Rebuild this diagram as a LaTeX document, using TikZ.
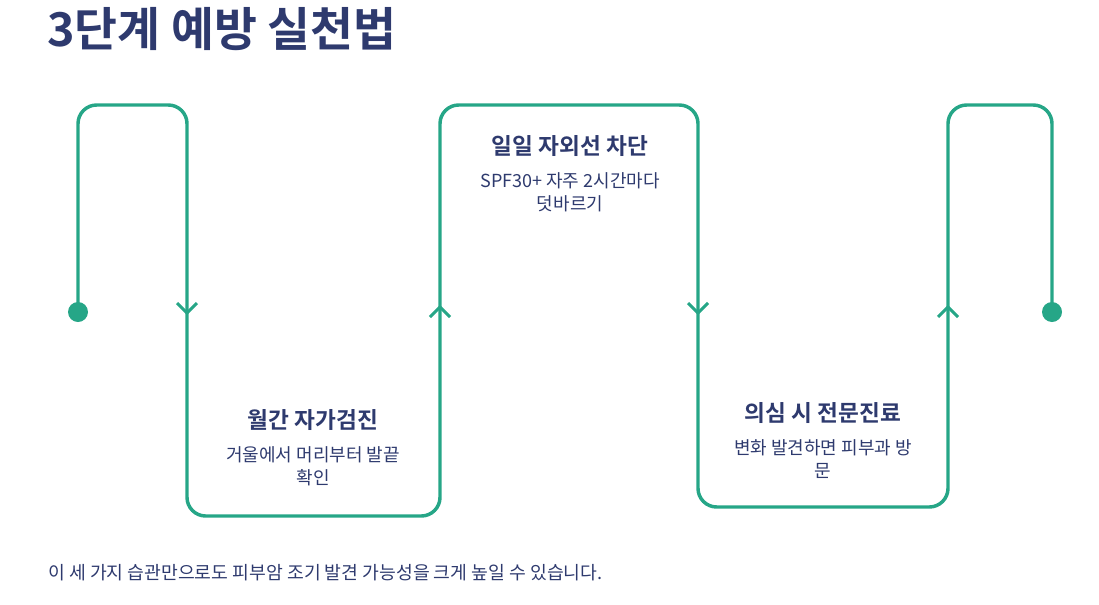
\documentclass[tikz,border=0pt]{standalone}
\usepackage{fontspec}
\setmainfont{Noto Sans CJK KR}[BoldFont={Noto Sans CJK KR Bold}]
\usepackage{tikz}
\usetikzlibrary{positioning}
\definecolor{flowgreen}{RGB}{38,166,135}
\definecolor{inkblue}{RGB}{46,58,110}
\tikzset{
    flow/.style={
        draw=flowgreen,
        line width=2.6pt,
        rounded corners=14pt
    },
    chevron/.style={
        draw=flowgreen,
        line width=2.2pt
    },
    enddot/.style={
        circle,
        fill=flowgreen,
        inner sep=0pt,
        minimum size=15pt
    },
    steptitle/.style={
        text=inkblue,
        font=\fontsize{17pt}{20pt}\selectfont\bfseries
    },
    stepnote/.style={
        text=inkblue,
        align=center,
        font=\fontsize{13.5pt}{17.3pt}\selectfont
    }
}

\begin{document}
\begin{tikzpicture}[x=0.75pt, y=-0.75pt]
\useasboundingbox (0,0) rectangle (1099,604);

% Title
\node[text=inkblue, anchor=base west, inner sep=0pt,
      font=\fontsize{35pt}{40pt}\selectfont\bfseries] (title) at (47,46) {3단계 예방 실천법};

% Path
\coordinate (start) at (78,312);
\coordinate (finish) at (1052,312);
\draw[flow] (start) -- (78,105) -- (187,105) -- (187,516) -- (440,516)
    -- (440,105) -- (698,105) -- (698,507) -- (948,507) -- (948,105)
    -- (1052,105) -- (finish);
\node[enddot] at (start) {};
\node[enddot] at (finish) {};

% Arrows
\foreach \x in {187,698} {
    \draw[chevron] (\x-10,303) -- (\x,313) -- (\x+10,303);
}
\foreach \x in {440,948} {
    \draw[chevron] (\x-10,317) -- (\x,307) -- (\x+10,317);
}

% Steps
\node[steptitle] (monthly) at (313,420) {월간 자가검진};
\node[stepnote, below=5pt of monthly] (monthlynote) {거울에서 머리부터 발끝\\확인};

\node[steptitle] (daily) at (570,146) {일일 자외선 차단};
\node[stepnote, below=5pt of daily] (dailynote) {SPF30+ 자주 2시간마다\\덧바르기};

\node[steptitle] (doctor) at (823,413) {의심 시 전문진료};
\node[stepnote, below=5pt of doctor] (doctornote) {변화 발견하면 피부과 방\\문};

% Footer
\node[text=inkblue, anchor=base west, inner sep=0pt,
      font=\fontsize{13.7pt}{16pt}\selectfont] (footer) at (48,579) {이 세 가지 습관만으로도 피부암 조기 발견 가능성을 크게 높일 수 있습니다.};

\end{tikzpicture}
\end{document}
